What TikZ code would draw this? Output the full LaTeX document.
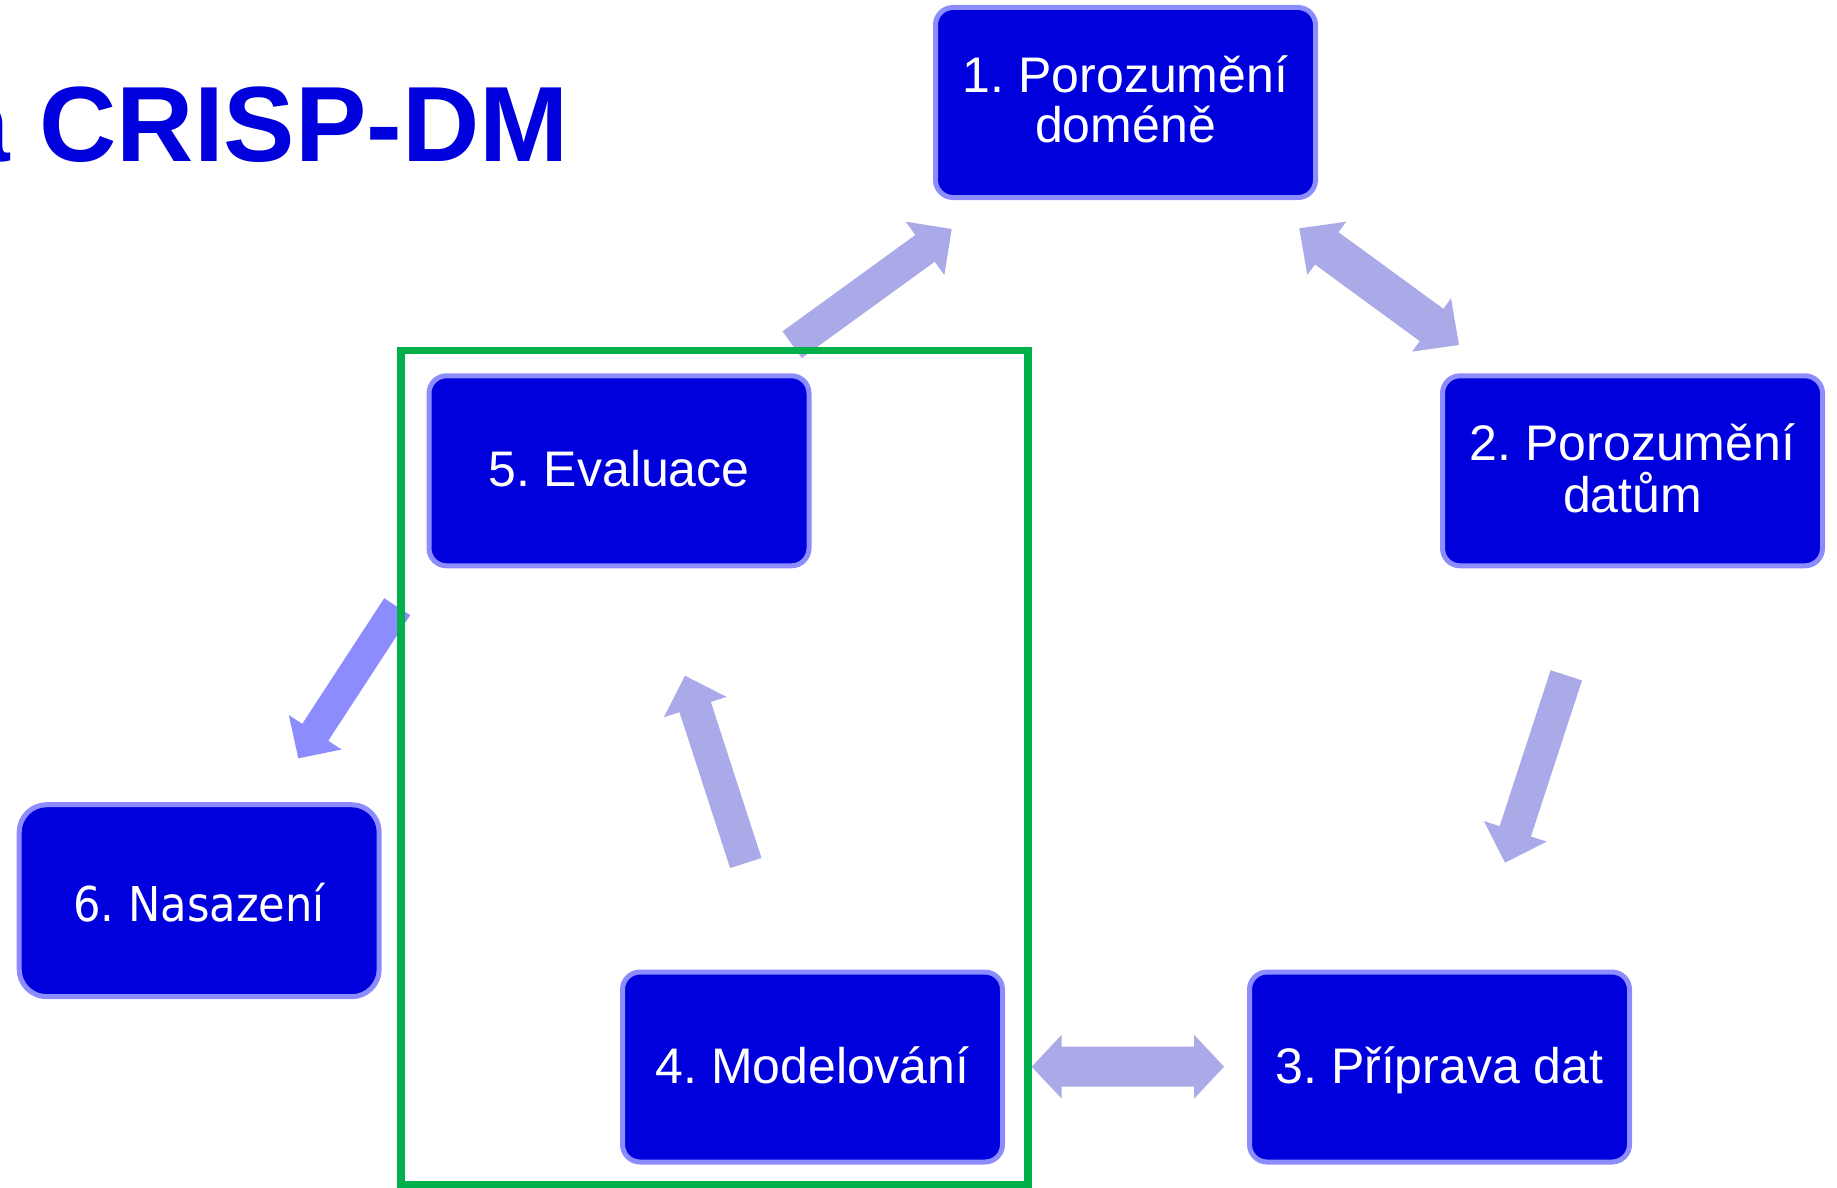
\documentclass[tikz,border=0pt]{standalone}
\usepackage{fontspec}
\setmainfont{Liberation Sans}
\newfontfamily\tahomafont[FakeStretch=0.9]{DejaVu Sans}
\usetikzlibrary{calc}
\frenchspacing
\definecolor{boxblue}{HTML}{0000DC}
\definecolor{boxborder}{HTML}{8C8CFF}
\definecolor{arrowlight}{HTML}{AAAAE8}
\definecolor{arrowmid}{HTML}{8C8CFF}
\definecolor{groupgreen}{HTML}{00B04A}
% single block arrow: tail, tip, half shaft, half head, head length, style
\newcommand\blockarrow[6]{%
  \coordinate (bbase) at ($(#2)!#5!(#1)$);
  \fill[#6] ($(#1)!#3!90:(#2)$) -- ($(bbase)!#3!90:(#2)$) -- ($(bbase)!#4!90:(#2)$) -- (#2)
    -- ($(bbase)!#4!-90:(#2)$) -- ($(bbase)!#3!-90:(#2)$) -- ($(#1)!#3!-90:(#2)$) -- cycle;
}
% double block arrow: end, end, half shaft, half head, head length, style
\newcommand\dblarrow[6]{%
  \coordinate (dbA) at ($(#1)!#5!(#2)$);
  \coordinate (dbB) at ($(#2)!#5!(#1)$);
  \fill[#6] (#1) -- ($(dbA)!#4!90:(#2)$) -- ($(dbA)!#3!90:(#2)$) -- ($(dbB)!#3!-90:(#1)$)
    -- ($(dbB)!#4!-90:(#1)$) -- (#2) -- ($(dbB)!#4!90:(#1)$) -- ($(dbB)!#3!90:(#1)$)
    -- ($(dbA)!#3!-90:(#2)$) -- ($(dbA)!#4!-90:(#2)$) -- cycle;
}
\tikzset{
  phase/.style={rectangle, rounded corners=17.5pt, draw=boxborder, line width=5pt,
    fill=boxblue, inner sep=0pt, minimum width=380pt, minimum height=190pt},
  phasetext/.style={anchor=base, inner sep=0pt, text=white,
    font=\frenchspacing\fontsize{50pt}{50pt}\selectfont},
  titletext/.style={anchor=base east, inner sep=0pt, text=boxblue,
    font=\bfseries\fontsize{107pt}{107pt}\selectfont},
  groupframe/.style={draw=groupgreen, line width=7.5pt}
}
\begin{document}
\begin{tikzpicture}[x=1pt,y=-1pt]
\useasboundingbox (0,0) rectangle (1837,1188);
% title (left part cut off by page edge)
\node[titletext] (title) at (569,161.7) {a CRISP-DM};
% arrow end points
\coordinate (aTail) at (792.2,344.7);   \coordinate (aTip) at (951.7,229);
\coordinate (bEndA) at (1299.3,228.3);  \coordinate (bEndB) at (1459,345);
\coordinate (cTail) at (1566.3,675.3);  \coordinate (cTip) at (1505,862.7);
\coordinate (dTail) at (745.8,863);     \coordinate (dTip) at (685,675.7);
\coordinate (eTail) at (397.2,606.7);   \coordinate (eTip) at (298.3,758.3);
\coordinate (fEndA) at (1031.7,1066.7); \coordinate (fEndB) at (1224,1066.7);
% arrows
\blockarrow{aTail}{aTip}{16.5pt}{33pt}{33pt}{arrowlight}
\dblarrow{bEndA}{bEndB}{20pt}{33pt}{34pt}{arrowlight}
\blockarrow{cTail}{cTip}{16.5pt}{33pt}{33pt}{arrowlight}
\blockarrow{dTail}{dTip}{16.5pt}{33pt}{33pt}{arrowlight}
\blockarrow{eTail}{eTip}{15.5pt}{31.5pt}{31pt}{arrowmid}
\dblarrow{fEndA}{fEndB}{20pt}{32pt}{30pt}{arrowlight}
% green group frame
\draw[groupframe] (400.8,350.5) rectangle (1028,1184.5);
% phase boxes
\node[phase] (b1) at (1125.5,102.5) {};
\node[phase] (b2) at (1632.5,470.8) {};
\node[phase] (b3) at (1439.5,1067) {};
\node[phase] (b4) at (812.5,1067) {};
\node[phase] (b5) at (619,470.8) {};
\node[phase, rounded corners=27.5pt, minimum width=360pt, minimum height=192pt] (b6) at (199.2,900.7) {};
% texts
\node[phasetext] (t1a) at ($(b1.center)+(0,-10)$) {1. Porozumění};
\node[phasetext] (t1b) at ($(b1.center)+(0,40)$) {doméně};
\node[phasetext] (t2a) at ($(b2.center)+(0,-10)$) {2. Porozumění};
\node[phasetext] (t2b) at ($(b2.center)+(0,42)$) {datům};
\node[phasetext] (t3) at ($(b3.center)+(0,16)$) {3. Příprava dat};
\node[phasetext] (t4) at ($(b4.center)+(0,16)$) {4. Modelování};
\node[phasetext] (t5) at ($(b5.center)+(0,16)$) {5. Evaluace};
\node[phasetext, font=\frenchspacing\tahomafont\fontsize{48pt}{48pt}\selectfont] (t6) at ($(b6.center)+(0,21)$) {6. Nasazení};
\end{tikzpicture}
\end{document}
